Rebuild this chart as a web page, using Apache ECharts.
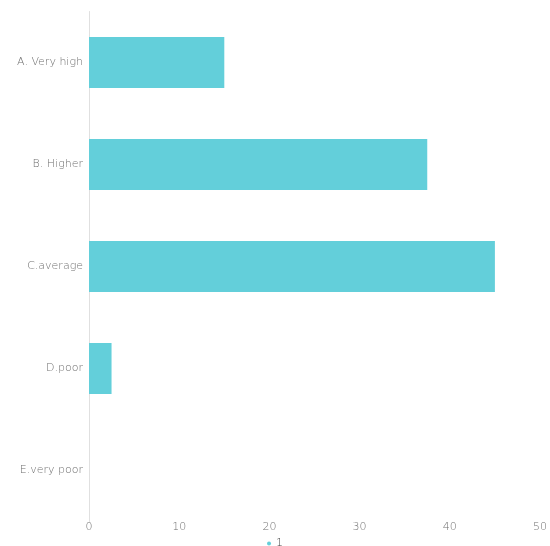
<!DOCTYPE html>
<html>
<head>
<meta charset="utf-8">
<script src="https://cdn.jsdelivr.net/npm/echarts@6/dist/echarts.min.js"></script>
<style>
  html, body { margin: 0; padding: 0; background: #fff; }
  #chart { width: 550px; height: 546px; }
</style>
</head>
<body>
<div id="chart"></div>
<script>
// Answer options, top to bottom
const categories = ['A. Very high', 'B. Higher', 'C.average', 'D.poor', 'E.very poor'];
// Share of respondents per option (%)
const values = [15, 37.5, 45, 2.5, 0];
const seriesName = '1';
const xTicks = { min: 0, max: 50, interval: 10 };

const labelFont = { color: '#6f6f6f', fontSize: 11, fontWeight: 200, fontFamily: '"DejaVu Sans", sans-serif' };

const chart = echarts.init(document.getElementById('chart'), null, { renderer: 'canvas' });
chart.setOption({
  animation: false,
  backgroundColor: '#ffffff',
  grid: { left: 89, right: 7, top: 11.5, bottom: 24.5, containLabel: false },
  legend: {
    top: 533,
    left: 'center',
    icon: 'circle',
    itemWidth: 4,
    itemHeight: 4,
    itemGap: 3,
    textStyle: { color: '#444', fontSize: 11, fontWeight: 200, fontFamily: '"DejaVu Sans", sans-serif' },
    data: [seriesName]
  },
  xAxis: {
    type: 'value',
    min: xTicks.min,
    max: xTicks.max,
    interval: xTicks.interval,
    axisLine: { show: false },
    axisTick: { show: false },
    splitLine: { show: false },
    axisLabel: Object.assign({ margin: 0 }, labelFont)
  },
  yAxis: {
    type: 'category',
    inverse: true,
    data: categories,
    axisLine: { show: true, lineStyle: { color: '#e0e0e0', width: 1 } },
    axisTick: { show: false },
    axisLabel: Object.assign({ margin: 6 }, labelFont)
  },
  series: [{
    name: seriesName,
    type: 'bar',
    data: values,
    barWidth: '50%',
    itemStyle: { color: '#63cfda' }
  }]
});
</script>
</body>
</html>
